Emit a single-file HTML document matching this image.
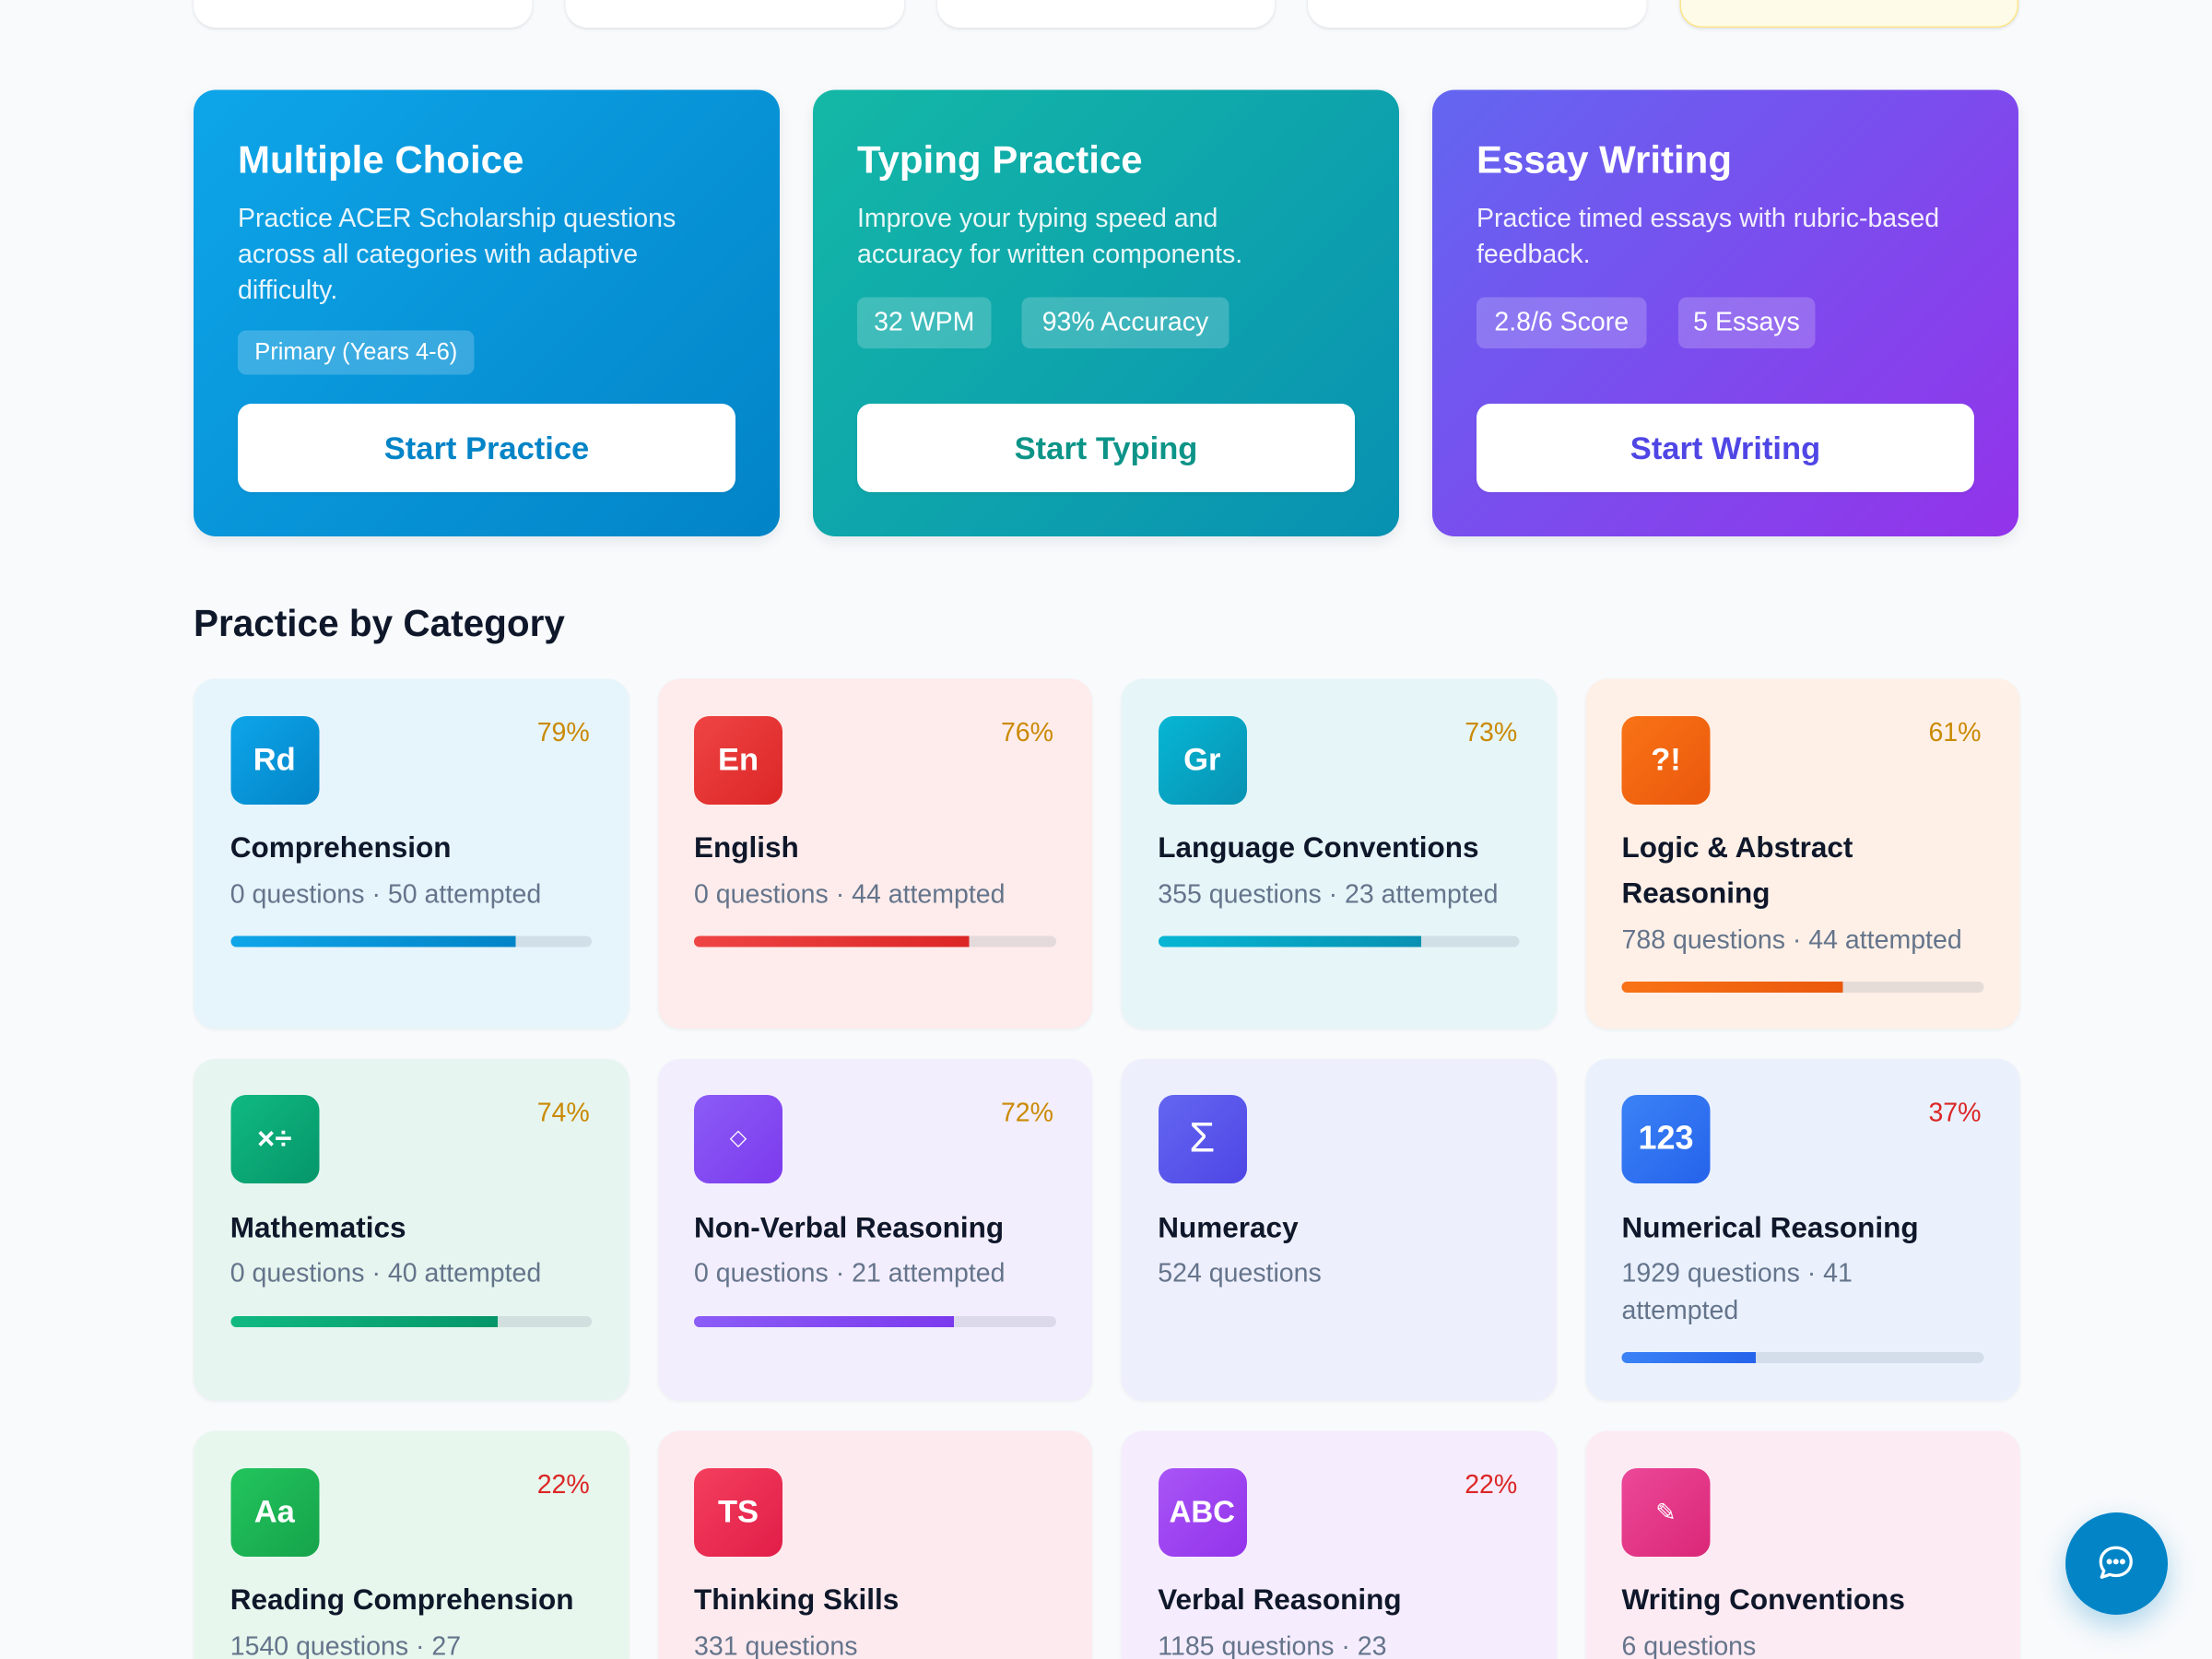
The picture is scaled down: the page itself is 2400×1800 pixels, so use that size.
<!DOCTYPE html>
<html><head><meta charset="utf-8"><style>
html,body{margin:0;padding:0;width:2400px;height:1800px;overflow:hidden;background:#f8fafc;}
#w{position:absolute;left:0;top:0;width:1600px;height:1200px;transform:scale(1.5);transform-origin:0 0;font-family:"Liberation Sans","DejaVu Sans",sans-serif;background:#f8fafc;overflow:hidden;}
.top{position:absolute;top:-60px;height:80px;width:244.8px;background:#fff;border-radius:16px;box-shadow:0 1px 3px rgba(15,23,42,0.08),0 1px 2px rgba(15,23,42,0.04);box-sizing:border-box;}
.big{position:absolute;top:65px;width:424px;height:323px;border-radius:16px;box-shadow:0 4px 10px rgba(15,23,42,0.08);color:#fff;}
.big .t{position:absolute;left:32px;top:37.3px;font-size:28px;line-height:1;font-weight:700;white-space:nowrap;}
.big .d{position:absolute;left:32px;top:80.7px;font-size:19px;line-height:26px;color:rgba(255,255,255,0.9);white-space:nowrap;}
.tag{position:absolute;background:rgba(255,255,255,0.2);border-radius:6px;text-align:center;white-space:nowrap;}
.btn{position:absolute;left:32px;top:227px;width:360px;height:64px;background:#fff;border-radius:10px;display:flex;align-items:center;justify-content:center;font-size:23px;line-height:1;font-weight:700;box-shadow:0 1px 3px rgba(0,0,0,0.06);}
h2{position:absolute;left:140px;top:437.6px;margin:0;font-size:27px;line-height:1;font-weight:700;color:#0f172a;}
.c{position:absolute;width:314.5px;border-radius:16px;box-shadow:0 1px 3px rgba(15,23,42,0.05);overflow:hidden;}
.ic{position:absolute;left:26.5px;top:26.5px;width:64px;height:64px;border-radius:11px;color:#fff;display:flex;align-items:center;justify-content:center;font-weight:700;font-size:23px;line-height:1;}
.pc{position:absolute;right:28px;top:30.4px;font-size:19px;line-height:1;color:#ca8a04;}
.pc.r{color:#dc2626;}
.cb{position:absolute;left:26.5px;top:107px;width:262px;}
.ct{font-size:21px;line-height:32.6px;font-weight:700;color:#0f172a;white-space:nowrap;}
.cm{margin-top:4.4px;font-size:19px;line-height:26.6px;color:#64748b;white-space:nowrap;}
.bar{margin-top:15.8px;height:8px;width:261.5px;border-radius:4px;background:rgba(100,116,139,0.16);overflow:hidden;}
.bar i{display:block;height:100%;}
.chat{position:absolute;left:1493.5px;top:1093.5px;width:74px;height:74px;border-radius:50%;background:#0284c7;box-shadow:0 8px 20px rgba(2,132,199,0.3);display:flex;align-items:center;justify-content:center;}
</style></head><body><div id="w">

<div class="top" style="left:140px"></div>
<div class="top" style="left:408.8px"></div>
<div class="top" style="left:677.6px"></div>
<div class="top" style="left:946.4px"></div>
<div class="top" style="left:1215.2px;background:#fefce8;border:1.5px solid #fde68a;"></div>

<div class="big" style="left:140px;background:linear-gradient(135deg,#0ea5e9,#0284c7);">
  <div class="t">Multiple Choice</div>
  <div class="d">Practice ACER Scholarship questions<br>across all categories with adaptive<br>difficulty.</div>
  <div class="tag" style="left:32px;top:174px;width:171px;height:32px;font-size:17px;line-height:32px;">Primary (Years 4-6)</div>
  <div class="btn" style="color:#0284c7;">Start Practice</div>
</div>

<div class="big" style="left:588px;background:linear-gradient(135deg,#14b8a6,#0891b2);">
  <div class="t">Typing Practice</div>
  <div class="d">Improve your typing speed and<br>accuracy for written components.</div>
  <div class="tag" style="left:32px;top:150px;width:97px;height:37px;font-size:19px;line-height:37px;">32 WPM</div>
  <div class="tag" style="left:151px;top:150px;width:150px;height:37px;font-size:19px;line-height:37px;">93% Accuracy</div>
  <div class="btn" style="color:#0d9488;">Start Typing</div>
</div>

<div class="big" style="left:1036px;background:linear-gradient(135deg,#6366f1,#9333ea);">
  <div class="t">Essay Writing</div>
  <div class="d">Practice timed essays with rubric-based<br>feedback.</div>
  <div class="tag" style="left:32px;top:150px;width:123px;height:37px;font-size:19px;line-height:37px;">2.8/6 Score</div>
  <div class="tag" style="left:177.7px;top:150px;width:99.3px;height:37px;font-size:19px;line-height:37px;">5 Essays</div>
  <div class="btn" style="color:#4f46e5;">Start Writing</div>
</div>

<h2>Practice by Category</h2>

<!-- Row 1 -->
<div class="c" style="left:140px;top:491px;height:253px;background:#e6f4fb;">
  <div class="ic" style="background:linear-gradient(135deg,#0ea5e9,#0284c7);">Rd</div>
  <div class="pc">79%</div>
  <div class="cb"><div class="ct">Comprehension</div><div class="cm">0 questions · 50 attempted</div><div class="bar"><i style="width:79%;background:linear-gradient(90deg,#0ea5e9,#0284c7);"></i></div></div>
</div>
<div class="c" style="left:475.5px;top:491px;height:253px;background:#fdeceb;">
  <div class="ic" style="background:linear-gradient(135deg,#ef4444,#dc2626);">En</div>
  <div class="pc">76%</div>
  <div class="cb"><div class="ct">English</div><div class="cm">0 questions · 44 attempted</div><div class="bar"><i style="width:76%;background:linear-gradient(90deg,#ef4444,#dc2626);"></i></div></div>
</div>
<div class="c" style="left:811px;top:491px;height:253px;background:#e6f5f8;">
  <div class="ic" style="background:linear-gradient(135deg,#06b6d4,#0891b2);">Gr</div>
  <div class="pc">73%</div>
  <div class="cb"><div class="ct">Language Conventions</div><div class="cm">355 questions · 23 attempted</div><div class="bar"><i style="width:73%;background:linear-gradient(90deg,#06b6d4,#0891b2);"></i></div></div>
</div>
<div class="c" style="left:1146.5px;top:491px;height:253px;background:#fef0e7;">
  <div class="ic" style="background:linear-gradient(135deg,#f97316,#ea580c);">?!</div>
  <div class="pc">61%</div>
  <div class="cb"><div class="ct">Logic &amp; Abstract<br>Reasoning</div><div class="cm">788 questions · 44 attempted</div><div class="bar"><i style="width:61%;background:linear-gradient(90deg,#f97316,#ea580c);"></i></div></div>
</div>

<!-- Row 2 -->
<div class="c" style="left:140px;top:765.5px;height:247.5px;background:#e6f5ef;">
  <div class="ic" style="background:linear-gradient(135deg,#10b981,#059669);font-size:22px;">×÷</div>
  <div class="pc">74%</div>
  <div class="cb"><div class="ct">Mathematics</div><div class="cm">0 questions · 40 attempted</div><div class="bar"><i style="width:74%;background:linear-gradient(90deg,#10b981,#059669);"></i></div></div>
</div>
<div class="c" style="left:475.5px;top:765.5px;height:247.5px;background:#f3eefd;">
  <div class="ic" style="background:linear-gradient(135deg,#8b5cf6,#7c3aed);font-size:16px;font-weight:400;">◇</div>
  <div class="pc">72%</div>
  <div class="cb"><div class="ct">Non-Verbal Reasoning</div><div class="cm">0 questions · 21 attempted</div><div class="bar"><i style="width:72%;background:linear-gradient(90deg,#8b5cf6,#7c3aed);"></i></div></div>
</div>
<div class="c" style="left:811px;top:765.5px;height:247.5px;background:#eeeffc;">
  <div class="ic" style="background:linear-gradient(135deg,#6366f1,#4f46e5);font-size:30px;font-weight:400;">Σ</div>
  <div class="cb"><div class="ct">Numeracy</div><div class="cm">524 questions</div></div>
</div>
<div class="c" style="left:1146.5px;top:765.5px;height:247.5px;background:#eaf1fd;">
  <div class="ic" style="background:linear-gradient(135deg,#3b82f6,#2563eb);font-size:24px;">123</div>
  <div class="pc r">37%</div>
  <div class="cb"><div class="ct">Numerical Reasoning</div><div class="cm">1929 questions · 41<br>attempted</div><div class="bar"><i style="width:37%;background:linear-gradient(90deg,#3b82f6,#2563eb);"></i></div></div>
</div>

<!-- Row 3 -->
<div class="c" style="left:140px;top:1035px;height:165px;border-bottom-left-radius:0;border-bottom-right-radius:0;background:#e7f7ed;">
  <div class="ic" style="background:linear-gradient(135deg,#22c55e,#16a34a);">Aa</div>
  <div class="pc r">22%</div>
  <div class="cb"><div class="ct">Reading Comprehension</div><div class="cm">1540 questions · 27<br>attempted</div></div>
</div>
<div class="c" style="left:475.5px;top:1035px;height:165px;border-bottom-left-radius:0;border-bottom-right-radius:0;background:#fdeaee;">
  <div class="ic" style="background:linear-gradient(135deg,#f43f5e,#e11d48);">TS</div>
  <div class="cb"><div class="ct">Thinking Skills</div><div class="cm">331 questions</div></div>
</div>
<div class="c" style="left:811px;top:1035px;height:165px;border-bottom-left-radius:0;border-bottom-right-radius:0;background:#f5edfd;">
  <div class="ic" style="background:linear-gradient(135deg,#a855f7,#9333ea);font-size:22px;">ABC</div>
  <div class="pc r">22%</div>
  <div class="cb"><div class="ct">Verbal Reasoning</div><div class="cm">1185 questions · 23<br>attempted</div></div>
</div>
<div class="c" style="left:1146.5px;top:1035px;height:165px;border-bottom-left-radius:0;border-bottom-right-radius:0;background:#fdebf3;">
  <div class="ic" style="background:linear-gradient(135deg,#ec4899,#db2777);font-size:18px;font-weight:400;">✎</div>
  <div class="cb"><div class="ct">Writing Conventions</div><div class="cm">6 questions</div></div>
</div>

<div class="chat">
  <svg width="31" height="31" viewBox="0 0 24 24" fill="none" stroke="#fff" stroke-width="1.7" stroke-linecap="round" stroke-linejoin="round">
    <path d="M12 3.5c4.9 0 8.5 3.4 8.5 7.8s-3.6 7.8-8.5 7.8c-1.2 0-2.3-.2-3.3-.6L4 20l1.3-3.6C4.1 15 3.5 13.2 3.5 11.3 3.5 6.9 7.1 3.5 12 3.5z"/>
    <circle cx="8.3" cy="11.3" r="0.7" fill="#fff"/>
    <circle cx="12" cy="11.3" r="0.7" fill="#fff"/>
    <circle cx="15.7" cy="11.3" r="0.7" fill="#fff"/>
  </svg>
</div>

</div></body></html>
